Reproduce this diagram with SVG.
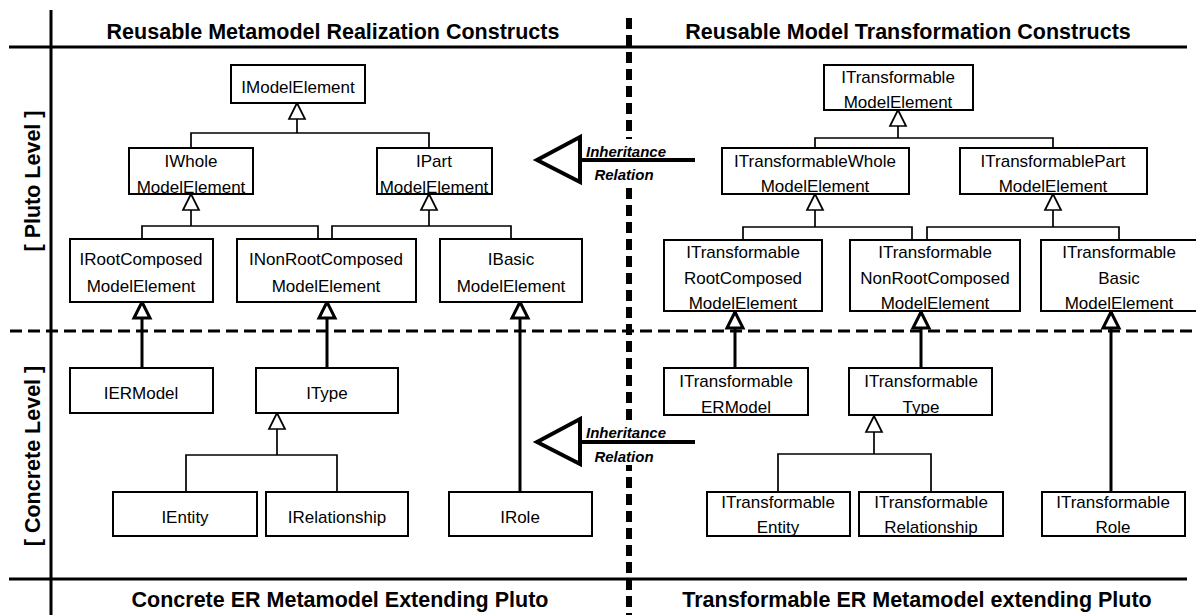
<svg xmlns="http://www.w3.org/2000/svg" width="1196" height="615" viewBox="0 0 1196 615">
<defs>
<style>
text{font-family:"Liberation Sans",Arial,Helvetica,sans-serif;fill:#000}
.n{font-size:17px;text-anchor:middle}
.t{font-size:21.5px;font-weight:bold;text-anchor:middle}
.s{font-size:21.5px;font-weight:bold;text-anchor:middle}
.lab{font-size:15px;font-weight:bold;font-style:italic;text-anchor:middle}
.box{fill:#fff;stroke:#000;stroke-width:2}
.thin{fill:none;stroke:#000;stroke-width:1.7}
.thick{fill:none;stroke:#000;stroke-width:3}
.frame{fill:none;stroke:#000;stroke-width:3}
.bg{fill:#fff;stroke:none}
</style>
<marker id="tri" viewBox="-2 -2 20 20" refX="16" refY="8" markerWidth="20" markerHeight="20" markerUnits="userSpaceOnUse" orient="auto">
<path d="M0,0 L16,8 L0,16 Z" fill="#fff" stroke="#000" stroke-width="1.7"/>
</marker>
<marker id="triB" viewBox="-3 -3 22 22" refX="16" refY="8" markerWidth="22" markerHeight="22" markerUnits="userSpaceOnUse" orient="auto">
<path d="M0,0 L16,8 L0,16 Z" fill="#fff" stroke="#000" stroke-width="3"/>
</marker>
</defs>
<rect width="1196" height="615" fill="#fff"/>

<g id="frame">
<line class="frame" x1="9" y1="47" x2="1187" y2="47"/>
<line class="frame" x1="9" y1="579" x2="1187" y2="579"/>
<line class="frame" x1="51" y1="10" x2="51" y2="615"/>
<line fill="none" stroke="#000" stroke-width="3" stroke-dasharray="12 6" x1="10" y1="331" x2="1192" y2="331"/>
<line fill="none" stroke="#000" stroke-width="6" stroke-dasharray="11 6" x1="629" y1="18" x2="629" y2="615"/>
</g>

<g id="titles">
<text class="t" x="333" y="39">Reusable Metamodel Realization Constructs</text>
<text class="t" x="908" y="39">Reusable Model Transformation Constructs</text>
<text class="t" x="340" y="607">Concrete ER Metamodel Extending Pluto</text>
<text class="t" x="917" y="607">Transformable ER Metamodel extending Pluto</text>
<text class="s" transform="translate(40,181) rotate(-90)">[ Pluto Level ]</text>
<text class="s" transform="translate(40,456) rotate(-90)">[ Concrete Level ]</text>
</g>

<g id="connectors">
<path class="thin" d="M191,148 V133 H429 V148"/>
<path class="thin" d="M297,133 V103" marker-end="url(#tri)"/>
<path class="thin" d="M142,239 V226 H318 V239"/>
<path class="thin" d="M191,226 V194" marker-end="url(#tri)"/>
<path class="thin" d="M332,239 V226 H511 V239"/>
<path class="thin" d="M429,226 V194" marker-end="url(#tri)"/>
<path class="thick" d="M142,368 V302" marker-end="url(#triB)"/>
<path class="thick" d="M327,368 V302" marker-end="url(#triB)"/>
<path class="thin" d="M186,492 V455 H337 V492"/>
<path class="thin" d="M277,455 V413" marker-end="url(#tri)"/>
<path class="thick" d="M520,492 V302" marker-end="url(#triB)"/>

<path class="thin" d="M815,148 V138 H1053 V148"/>
<path class="thin" d="M898,138 V110" marker-end="url(#tri)"/>
<path class="thin" d="M743,239 V227 H912 V239"/>
<path class="thin" d="M815,227 V194" marker-end="url(#tri)"/>
<path class="thin" d="M927,239 V227 H1119 V239"/>
<path class="thin" d="M1053,227 V194" marker-end="url(#tri)"/>
<path class="thick" d="M735,368 V312" marker-end="url(#triB)"/>
<path class="thick" d="M921,368 V312" marker-end="url(#triB)"/>
<path class="thin" d="M778,492 V454 H931 V492"/>
<path class="thin" d="M874,454 V416" marker-end="url(#tri)"/>
<path class="thick" d="M1111,492 V312" marker-end="url(#triB)"/>

<g id="inherit-top">
<rect class="bg" x="590" y="139" width="76" height="49"/>
<line x1="580" y1="160" x2="695" y2="160" stroke="#000" stroke-width="4"/>
<polygon points="537,160 580,137 580,182" fill="#fff" stroke="#000" stroke-width="4" stroke-linejoin="miter"/>
<text class="lab" x="626" y="157">Inheritance</text>
<text class="lab" x="624" y="180">Relation</text>
</g>
<g id="inherit-bottom">
<rect class="bg" x="590" y="420" width="76" height="45"/>
<line x1="580" y1="442" x2="695" y2="442" stroke="#000" stroke-width="4"/>
<polygon points="537,442 580,419 580,464" fill="#fff" stroke="#000" stroke-width="4" stroke-linejoin="miter"/>
<text class="lab" x="626" y="438">Inheritance</text>
<text class="lab" x="624" y="462">Relation</text>
</g>
</g>

<g id="IModelElement"><rect class="box" x="231" y="65" width="134" height="38"/><text class="n" x="298" y="93">IModelElement</text></g>
<g id="IWholeModelElement"><rect class="box" x="129" y="148" width="124" height="46"/><text class="n" x="191" y="167">IWhole</text><text class="n" x="191" y="193">ModelElement</text></g>
<g id="IPartModelElement"><rect class="box" x="377" y="148" width="115" height="46"/><text class="n" x="434" y="167">IPart</text><text class="n" x="434" y="193">ModelElement</text></g>
<g id="IRootComposedModelElement"><rect class="box" x="70" y="239" width="143" height="63"/><text class="n" x="141" y="265">IRootComposed</text><text class="n" x="141" y="292">ModelElement</text></g>
<g id="INonRootComposedModelElement"><rect class="box" x="237" y="239" width="179" height="63"/><text class="n" x="326" y="265">INonRootComposed</text><text class="n" x="326" y="292">ModelElement</text></g>
<g id="IBasicModelElement"><rect class="box" x="440" y="239" width="142" height="63"/><text class="n" x="511" y="265">IBasic</text><text class="n" x="511" y="292">ModelElement</text></g>

<g id="IERModel"><rect class="box" x="70" y="368" width="143" height="45"/><text class="n" x="141" y="399">IERModel</text></g>
<g id="IType"><rect class="box" x="256" y="368" width="142" height="45"/><text class="n" x="327" y="399">IType</text></g>
<g id="IEntity"><rect class="box" x="113" y="492" width="144" height="44"/><text class="n" x="185" y="523">IEntity</text></g>
<g id="IRelationship"><rect class="box" x="266" y="492" width="142" height="44"/><text class="n" x="337" y="523">IRelationship</text></g>
<g id="IRole"><rect class="box" x="449" y="492" width="143" height="44"/><text class="n" x="520" y="523">IRole</text></g>

<g id="ITransformableModelElement"><rect class="box" x="824" y="65" width="149" height="45"/><text class="n" x="898" y="83">ITransformable</text><text class="n" x="898" y="108">ModelElement</text></g>
<g id="ITransformableWholeModelElement"><rect class="box" x="722" y="148" width="187" height="46"/><text class="n" x="815" y="167">ITransformableWhole</text><text class="n" x="815" y="192">ModelElement</text></g>
<g id="ITransformablePartModelElement"><rect class="box" x="960" y="148" width="187" height="46"/><text class="n" x="1053" y="167">ITransformablePart</text><text class="n" x="1053" y="192">ModelElement</text></g>
<g id="ITransformableRootComposedModelElement"><rect class="box" x="664" y="240" width="158" height="71"/><text class="n" x="743" y="258">ITransformable</text><text class="n" x="743" y="284">RootComposed</text><text class="n" x="743" y="309">ModelElement</text></g>
<g id="ITransformableNonRootComposedModelElement"><rect class="box" x="850" y="240" width="170" height="71"/><text class="n" x="935" y="258">ITransformable</text><text class="n" x="935" y="284">NonRootComposed</text><text class="n" x="935" y="309">ModelElement</text></g>
<g id="ITransformableBasicModelElement"><rect class="box" x="1041" y="240" width="160" height="71"/><text class="n" x="1119" y="258">ITransformable</text><text class="n" x="1119" y="284">Basic</text><text class="n" x="1119" y="309">ModelElement</text></g>

<g id="ITransformableERModel"><rect class="box" x="664" y="368" width="144" height="47"/><text class="n" x="736" y="387">ITransformable</text><text class="n" x="736" y="413">ERModel</text></g>
<g id="ITransformableType"><rect class="box" x="849" y="368" width="143" height="47"/><text class="n" x="921" y="387">ITransformable</text><text class="n" x="921" y="413">Type</text></g>
<g id="ITransformableEntity"><rect class="box" x="707" y="492" width="143" height="44"/><text class="n" x="778" y="508">ITransformable</text><text class="n" x="778" y="533">Entity</text></g>
<g id="ITransformableRelationship"><rect class="box" x="859" y="492" width="144" height="44"/><text class="n" x="931" y="508">ITransformable</text><text class="n" x="931" y="533">Relationship</text></g>
<g id="ITransformableRole"><rect class="box" x="1042" y="492" width="143" height="44"/><text class="n" x="1113" y="508">ITransformable</text><text class="n" x="1113" y="533">Role</text></g>
</svg>
